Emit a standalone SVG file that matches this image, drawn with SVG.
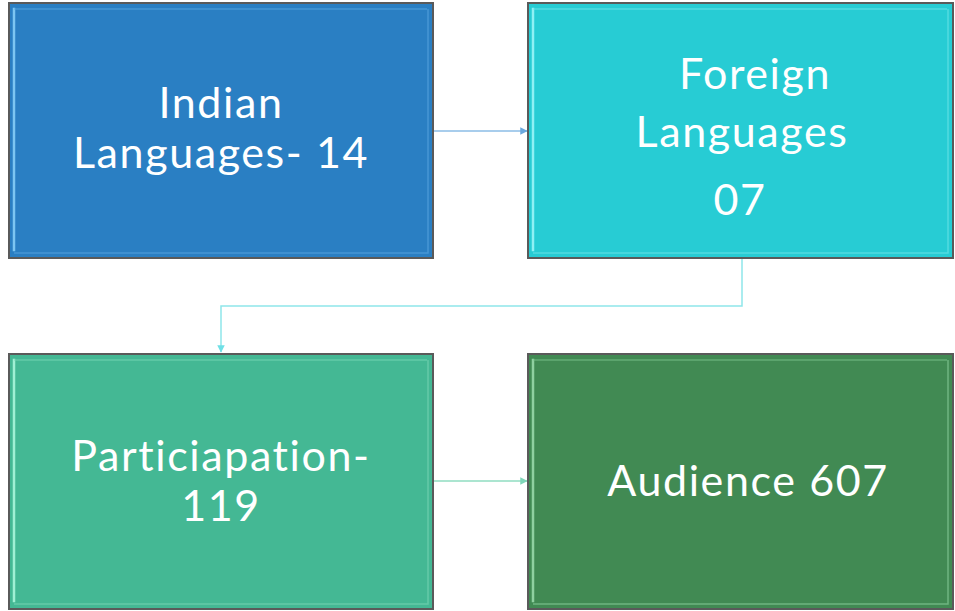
<svg xmlns="http://www.w3.org/2000/svg" width="955" height="611" viewBox="0 0 955 611">
<defs>
<style>
.box{stroke:#5a5a5a;stroke-width:2}
.hl{fill:none;stroke-width:2.5;stroke-linecap:square}
.sh{fill:none;stroke-width:1.5;opacity:0.6}
.lbl{font-family:Lato,"Open Sans","Liberation Sans",sans-serif;font-size:43px;letter-spacing:1.6px;fill:#ffffff;text-anchor:middle}
.conn{fill:none;stroke-width:1.5}
</style>
<marker id="a1" viewBox="0 0 10 10" refX="9" refY="5" markerWidth="5" markerHeight="5" orient="auto"><path d="M0,0 L10,5 L0,10 z" fill="#6aa8de"/></marker>
<marker id="a2" viewBox="0 0 10 10" refX="9" refY="5" markerWidth="5" markerHeight="5" orient="auto"><path d="M0,0 L10,5 L0,10 z" fill="#6fe0e6"/></marker>
<marker id="a3" viewBox="0 0 10 10" refX="9" refY="5" markerWidth="5" markerHeight="5" orient="auto"><path d="M0,0 L10,5 L0,10 z" fill="#7fd6b8"/></marker>
</defs>
<rect width="955" height="611" fill="#ffffff"/>
<g id="connectors">
<path class="conn" d="M433,131 H527" stroke="#8bbce6" marker-end="url(#a1)"/>
<path class="conn" d="M742,258 V306 H221 V352" stroke="#8fe6ea" marker-end="url(#a2)"/>
<path class="conn" d="M433,481 H527" stroke="#8fdcc0" marker-end="url(#a3)"/>
</g>
<g id="node1">
<rect class="box" x="9" y="3" width="424" height="255" fill="#2a7fc3"/>
<path class="hl" d="M14,250 V9" stroke="#7cc6f2"/>
<path class="sh" d="M14,9 H427" stroke="#5aa6e0"/>
<path class="sh" d="M14,253 H428 V9" stroke="#5aa6e0"/>
<text class="lbl" x="221" y="118">Indian</text>
<text class="lbl" x="221" y="168">Languages- 14</text>
</g>
<g id="node2">
<rect class="box" x="528" y="3" width="425" height="255" fill="#27ccd4"/>
<path class="hl" d="M533,250 V9" stroke="#8ff0f4"/>
<path class="sh" d="M533,9 H947" stroke="#70e4ea"/>
<path class="sh" d="M533,253 H948 V9" stroke="#70e4ea"/>
<text class="lbl" x="755" y="89">Foreign</text>
<text class="lbl" x="742" y="147">Languages</text>
<text class="lbl" x="740" y="215">07</text>
</g>
<g id="node3">
<rect class="box" x="9" y="354" width="424" height="255" fill="#44b894"/>
<path class="hl" d="M14,601 V360" stroke="#a0f0d4"/>
<path class="sh" d="M14,360 H427" stroke="#7ad6b6"/>
<path class="sh" d="M14,604 H428 V360" stroke="#7ad6b6"/>
<text class="lbl" x="221" y="471">Particiapation-</text>
<text class="lbl" x="221" y="521">119</text>
</g>
<g id="node4">
<rect class="box" x="528" y="354" width="425" height="255" fill="#418a53"/>
<path class="hl" d="M533,601 V360" stroke="#8fd0a0"/>
<path class="sh" d="M533,360 H947" stroke="#7cc48e"/>
<path class="sh" d="M533,604 H948 V360" stroke="#8fd0a0"/>
<text class="lbl" x="748" y="496">Audience 607</text>
</g>
</svg>
